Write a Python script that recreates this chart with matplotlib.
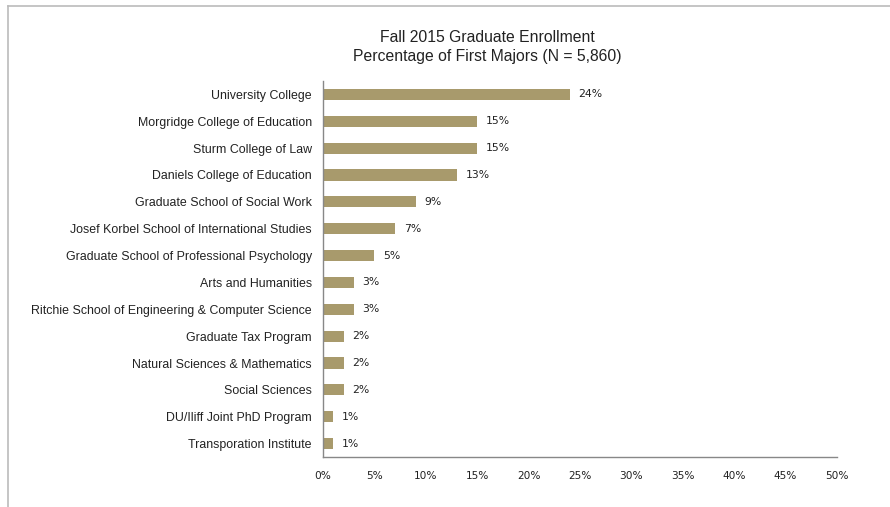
import matplotlib
matplotlib.use("Agg")
import matplotlib.pyplot as plt
from matplotlib.lines import Line2D
from matplotlib.ticker import FuncFormatter

categories = [
    "University College",
    "Morgridge College of Education",
    "Sturm College of Law",
    "Daniels College of Education",
    "Graduate School of Social Work",
    "Josef Korbel School of International Studies",
    "Graduate School of Professional Psychology",
    "Arts and Humanities",
    "Ritchie School of Engineering & Computer Science",
    "Graduate Tax Program",
    "Natural Sciences & Mathematics",
    "Social Sciences",
    "DU/Iliff Joint PhD Program",
    "Transporation Institute",
]
values = [24, 15, 15, 13, 9, 7, 5, 3, 3, 2, 2, 2, 1, 1]
xticks = [0, 5, 10, 15, 20, 25, 30, 35, 40, 45, 50]
title = "Fall 2015 Graduate Enrollment\nPercentage of First Majors (N = 5,860)"

plt.rcParams['font.family'] = ['Liberation Sans', 'DejaVu Sans']

fig = plt.figure(figsize=(8.9, 5.07), dpi=100)
ax = fig.add_axes([323/890, 1 - 457/507, 514/890, 376/507])

bar_color = "#A89A6C"
n = len(categories)
ypos = list(range(n))
ax.barh(ypos, values, height=0.42, color=bar_color)
ax.set_ylim(n - 0.5, -0.5)
ax.set_xlim(0, 50)
ax.set_yticks(ypos)
ax.set_yticklabels(categories, fontsize=8.9, color="#222222")
ax.set_xticks(xticks)
ax.xaxis.set_major_formatter(FuncFormatter(lambda v, p: f"{int(v)}%"))
ax.tick_params(axis='x', length=0, pad=10, labelcolor="#222222")
for lbl in ax.get_xticklabels():
    lbl.set_fontfamily('DejaVu Sans')
    lbl.set_fontsize(7.6)
ax.tick_params(axis='y', length=0, pad=8)

for y, v in zip(ypos, values):
    ax.text(v + 0.85, y, f"{v}%", va='center', ha='left', fontsize=7.8,
            family='DejaVu Sans', color="#222222")

for s in ['top', 'right']:
    ax.spines[s].set_visible(False)
for s in ['left', 'bottom']:
    ax.spines[s].set_color("#888888")
    ax.spines[s].set_linewidth(1.0)

fig.text(0.548, 0.9075, title, ha='center', va='center', fontsize=11.3, color="#222222",
         linespacing=1.3)

# outer frame (left and top only)
fig.add_artist(Line2D([7.5/890, 7.5/890], [0, 1 - 6/507], transform=fig.transFigure,
                      color="#BBBBBB", lw=1.2))
fig.add_artist(Line2D([7.5/890, 1], [1 - 6/507, 1 - 6/507], transform=fig.transFigure,
                      color="#BBBBBB", lw=1.2))

fig.savefig("out.png", dpi=100)
